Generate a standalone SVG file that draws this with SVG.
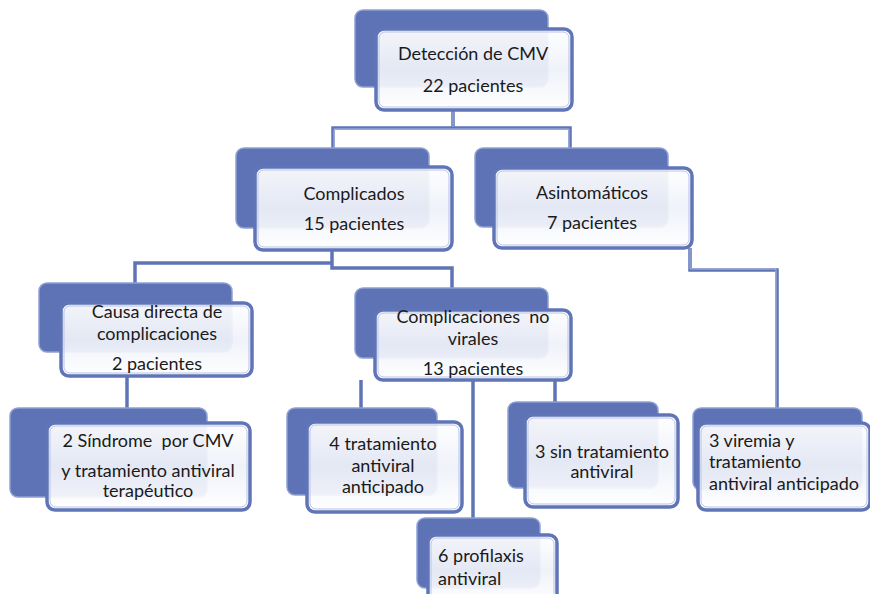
<svg xmlns="http://www.w3.org/2000/svg" width="870" height="594" viewBox="0 0 870 594">
<defs>
<linearGradient id="fg" x1="0" y1="0" x2="0" y2="1">
<stop offset="0" stop-color="#ffffff"/>
<stop offset="0.5" stop-color="#eef1f9"/>
<stop offset="1" stop-color="#ffffff"/>
</linearGradient>
<style>
.back{fill:#5e73b5;stroke:#8fa0d3;stroke-width:1.5}
.front{fill:url(#fg);fill-opacity:0.93;stroke:#6075b7;stroke-width:3.5}
.inner{fill:none;stroke:#b9c4e6;stroke-width:1}
.t{font-family:Lato,"Open Sans","Liberation Sans",sans-serif;font-size:18px;fill:#1a1a1a;text-anchor:middle}
.tl{text-anchor:start}
.con{fill:none;stroke:#5f74b6;stroke-width:3.5;stroke-linejoin:miter}
.conh{fill:none;stroke:#aab8e0;stroke-width:1}
</style>
</defs>
<rect width="870" height="594" fill="#ffffff"/>
<g id="connectors">
<path class="con" d="M453 110 V128 M333 148 V128 H570 V148"/>
<path class="con" d="M332 250 V263 H135 V283 M332 263 V268 H452 V288"/>
<path class="con" d="M127 376 V410"/>
<path class="con" d="M361 380 V410 M473 380 V518 M555 380 V403"/>
<path class="con" d="M690 248 V270 H777 V408"/>
<path class="conh" d="M453 110 V127 M334 148 V129 H569 V148"/>
<path class="conh" d="M690 248 V269 H776 V408"/>
</g>
<g id="n-deteccion">
<rect class="back" x="355" y="10" width="193" height="77" rx="8"/>
<rect class="front" x="376" y="29" width="196" height="81" rx="8"/>
<rect class="inner" x="379" y="32" width="190" height="75" rx="6"/>
<text class="t" x="473" y="60">Detección de CMV</text>
<text class="t" x="473" y="92">22 pacientes</text>
</g>
<g id="n-complicados">
<rect class="back" x="236" y="148" width="193" height="80" rx="8"/>
<rect class="front" x="255" y="167" width="197" height="83" rx="8"/>
<rect class="inner" x="258" y="170" width="191" height="77" rx="6"/>
<text class="t" x="354" y="200">Complicados</text>
<text class="t" x="354" y="230">15 pacientes</text>
</g>
<g id="n-asintomaticos">
<rect class="back" x="475" y="148" width="193" height="79" rx="8"/>
<rect class="front" x="494" y="168" width="198" height="80" rx="8"/>
<rect class="inner" x="497" y="171" width="192" height="74" rx="6"/>
<text class="t" x="592" y="199">Asintomáticos</text>
<text class="t" x="592" y="229">7 pacientes</text>
</g>
<g id="n-causa">
<rect class="back" x="39" y="283" width="193" height="69" rx="8"/>
<rect class="front" x="61" y="303" width="191" height="73" rx="8"/>
<rect class="inner" x="64" y="306" width="185" height="67" rx="6"/>
<text class="t" x="157" y="318">Causa directa de</text>
<text class="t" x="157" y="340">complicaciones</text>
<text class="t" x="157" y="370">2 pacientes</text>
</g>
<g id="n-noviral">
<rect class="back" x="355" y="288" width="193" height="70" rx="8"/>
<rect class="front" x="375" y="310" width="196" height="70" rx="8"/>
<rect class="inner" x="378" y="313" width="190" height="64" rx="6"/>
<text class="t" x="473" y="323" xml:space="preserve">Complicaciones  no</text>
<text class="t" x="473" y="345">virales</text>
<text class="t" x="473" y="375">13 pacientes</text>
</g>
<g id="n-sindrome">
<rect class="back" x="10" y="408" width="197" height="89" rx="8"/>
<rect class="front" x="47" y="423" width="203" height="87" rx="8"/>
<rect class="inner" x="50" y="426" width="197" height="81" rx="6"/>
<text class="t" x="148" y="447" xml:space="preserve">2 Síndrome  por CMV</text>
<text class="t" x="148" y="477">y tratamiento antiviral</text>
<text class="t" x="148" y="497">terapéutico</text>
</g>
<g id="n-anticipado4">
<rect class="back" x="287" y="408" width="150" height="87" rx="8"/>
<rect class="front" x="307" y="422" width="155" height="90" rx="8"/>
<rect class="inner" x="310" y="425" width="149" height="84" rx="6"/>
<text class="t" x="383" y="450">4 tratamiento</text>
<text class="t" x="383" y="472">antiviral</text>
<text class="t" x="383" y="493">anticipado</text>
</g>
<g id="n-sintratamiento">
<rect class="back" x="508" y="402" width="150" height="86" rx="8"/>
<rect class="front" x="525" y="415" width="153" height="92" rx="8"/>
<rect class="inner" x="528" y="418" width="147" height="86" rx="6"/>
<text class="t" x="602" y="458">3 sin tratamiento</text>
<text class="t" x="602" y="478">antiviral</text>
</g>
<g id="n-profilaxis">
<rect class="back" x="417" y="518" width="123" height="70" rx="8"/>
<rect class="front" x="428" y="535" width="129" height="70" rx="8"/>
<rect class="inner" x="431" y="538" width="123" height="64" rx="6"/>
<text class="t tl" x="438" y="562">6 profilaxis</text>
<text class="t tl" x="438" y="585">antiviral</text>
</g>
<g id="n-viremia">
<rect class="back" x="693" y="408" width="169" height="82" rx="8"/>
<rect class="front" x="698" y="423" width="172" height="87" rx="8"/>
<rect class="inner" x="701" y="426" width="166" height="81" rx="6"/>
<text class="t tl" x="709" y="447">3 viremia y</text>
<text class="t tl" x="709" y="468">tratamiento</text>
<text class="t tl" x="709" y="490">antiviral anticipado</text>
</g>
</svg>
